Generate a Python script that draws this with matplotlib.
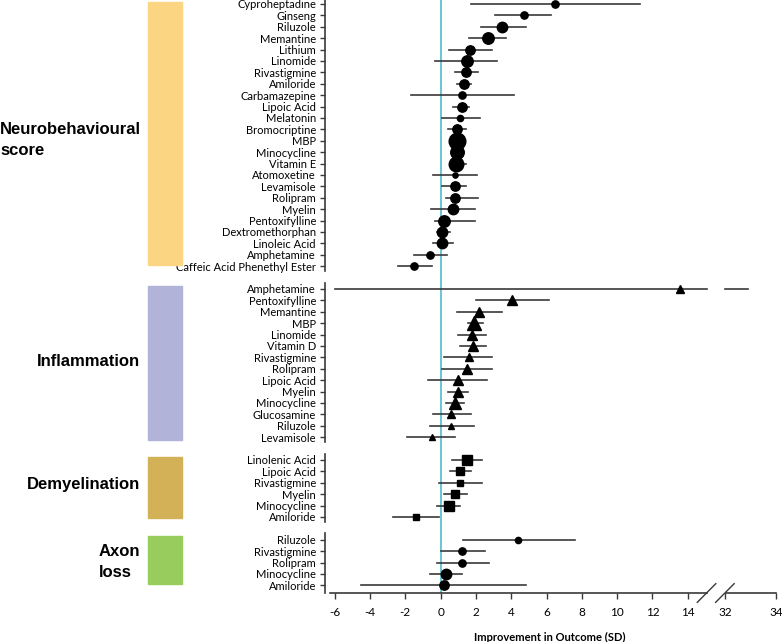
import numpy as np
import matplotlib.pyplot as plt
from matplotlib.patches import Rectangle

# Neurobehavioural score (circles)
neuro_drugs = ["Cyproheptadine", "Ginseng", "Riluzole", "Memantine", "Lithium", "Linomide",
               "Rivastigmine", "Amiloride", "Carbamazepine", "Lipoic Acid", "Melatonin",
               "Bromocriptine", "MBP", "Minocycline", "Vitamin E", "Atomoxetine", "Levamisole",
               "Rolipram", "Myelin", "Pentoxifylline", "Dextromethorphan", "Linoleic Acid",
               "Amphetamine", "Caffeic Acid Phenethyl Ester"]
neuro_est = [6.5, 4.7, 3.5, 2.7, 1.68, 1.5, 1.41, 1.3, 1.2, 1.19, 1.11, 0.9, 0.9, 0.9, 0.87,
             0.81, 0.81, 0.81, 0.68, 0.2, 0.07, 0.09, -0.62, -1.51]
neuro_lo = [1.7, 3.1, 2.28, 1.6, 0.49, -0.32, 0.81, 0.94, -1.7, 0.71, 0.09, 0.4, 0.6, 0.65,
            0.6, -0.42, 0.09, 0.3, -0.53, -0.3, -0.23, -0.42, -1.51, -2.4]
neuro_hi = [11.3, 6.24, 4.83, 3.73, 2.92, 3.22, 2.13, 1.7, 4.15, 1.62, 2.22, 1.41, 1.25, 1.24,
            1.43, 2.04, 1.41, 2.13, 1.94, 1.94, 0.53, 0.71, 0.34, -0.51]
neuro_wt = [7, 7, 10, 11, 9, 11, 9, 9, 7, 9, 6, 9, 16, 13, 14, 5, 9, 9, 10, 11, 10, 10, 7, 7]

# Inflammation (triangles)
inflam_drugs = ["Amphetamine", "Pentoxifylline", "Memantine", "MBP", "Linomide", "Vitamin D",
                "Rivastigmine", "Rolipram", "Lipoic Acid", "Myelin", "Minocycline",
                "Glucosamine", "Riluzole", "Levamisole"]
inflam_est = [13.54, 4.02, 2.19, 1.9, 1.79, 1.81, 1.6, 1.5, 1.0, 1.0, 0.81, 0.58, 0.58, -0.51]
inflam_lo = [-6.0, 2.0, 0.9, 1.53, 1.0, 1.09, 0.19, 0.09, -0.7, 0.4, 0.3, -0.42, -0.6, -1.92]
inflam_hi = [32.9, 6.15, 3.5, 2.41, 2.55, 2.55, 2.92, 2.92, 2.64, 1.53, 1.32, 1.7, 1.9, 0.81]
inflam_wt = [8, 10, 10, 14, 10, 10, 7, 10, 9, 10, 11, 7, 6, 5]

# Demyelination (squares)
demyel_drugs = ["Linolenic Acid", "Lipoic Acid", "Rivastigmine", "Myelin", "Minocycline",
                "Amiloride"]
demyel_est = [1.51, 1.09, 1.09, 0.81, 0.49, -1.4]
demyel_lo = [0.62, 0.53, -0.08, 0.2, -0.19, -2.72]
demyel_hi = [2.32, 1.7, 2.32, 1.51, 1.09, -0.1]
demyel_wt = [10, 9, 6, 9, 10, 6]

# Axon loss (circles)
axon_drugs = ["Riluzole", "Rivastigmine", "Rolipram", "Minocycline", "Amiloride"]
axon_est = [4.41, 1.2, 1.2, 0.3, 0.19]
axon_lo = [1.28, 0.0, -0.23, -0.6, -4.51]
axon_hi = [7.64, 2.5, 2.72, 1.22, 4.83]
axon_wt = [6, 7, 7, 10, 9]

x_ticks = [-6, -4, -2, 0, 2, 4, 6, 8, 10, 12, 14, 32, 34]


def fx(v):
    # broken axis: values above the gap are squeezed in after 15
    v = np.asarray(v, dtype=float)
    return np.where(v <= 15.5, v, 16.1 + (v - 32) * 1.45)


W, H = 782, 642
fig = plt.figure(figsize=(W / 100, H / 100), dpi=100)
ax = fig.add_axes([325 / W, 1 - 593 / H, (776 - 325) / W, 593 / H])
ax.set_xlim(-6.55, 18.98)
ax.set_ylim(51.67, -0.35)
for s in ax.spines.values():
    s.set_visible(False)

groups = [
    (neuro_drugs, neuro_est, neuro_lo, neuro_hi, neuro_wt, "o", 0, 0.75),
    (inflam_drugs, inflam_est, inflam_lo, inflam_hi, inflam_wt, "^", 25, 0.75),
    (demyel_drugs, demyel_est, demyel_lo, demyel_hi, demyel_wt, "s", 40, 0.68),
    (axon_drugs, axon_est, axon_lo, axon_hi, axon_wt, "o", 47, 0.75),
]

line_col = "#3a3a3a"
yt, yl = [], []
for drugs, est, lo, hi, wt, mk, start, k in groups:
    ys = start + np.arange(len(drugs))
    for y, e, l, h, w in zip(ys, est, lo, hi, wt):
        if h > 20:
            ax.plot([fx(l), 15.07], [y, y], color=line_col, lw=1.2, zorder=2)
            ax.plot([fx(32), fx(h)], [y, y], color=line_col, lw=1.2, zorder=2)
        else:
            ax.plot([fx(l), fx(h)], [y, y], color=line_col, lw=1.2, zorder=2)
        ax.plot(fx(e), y, marker=mk, ms=w * k, color="black", mec="black", zorder=3)
    yt += list(ys)
    yl += drugs
    top = start - 0.55
    bot = 51.67 if start == 47 else ys[-1] + 0.4
    ax.plot([-6.55, -6.55], [top, bot], color=line_col, lw=1.2, clip_on=False)

ax.set_yticks(yt)
ax.set_yticklabels(yl, fontsize=8, family="Lato")
ax.tick_params(axis="y", length=3.5, width=1, color=line_col, pad=3)

ax.set_xticks(fx(x_ticks))
ax.set_xticklabels([str(t) for t in x_ticks], fontsize=8.5, family="Lato")
ax.tick_params(axis="x", length=4, width=1, color=line_col, pad=6)

# zero line
ax.plot([0, 0], [-0.35, 51.67], color="#3fb6c6", lw=1.1, zorder=1)

# bottom axis with break
ax.plot([-6.27, 15.07], [51.67, 51.67], color=line_col, lw=1.2, clip_on=False)
ax.plot([16.15, 18.98], [51.67, 51.67], color=line_col, lw=1.2, clip_on=False)
for x0 in (14.54, 15.58):
    ax.plot([x0, x0 + 1.05], [51.67 + 0.82, 51.67 - 0.82], color=line_col, lw=1,
            clip_on=False)

fig.text(550 / W, 1 - 637 / H, "Improvement in Outcome (SD)", ha="center", va="center",
         fontsize=8, fontweight="bold", family="Lato")

# group colour bars and labels
bars = [(2, 265, "#fbd581"), (286, 440, "#b1b3d9"), (457, 518, "#d3b257"), (536, 584, "#98cc5c")]
for y0, y1, c in bars:
    fig.patches.append(Rectangle((148 / W, 1 - y1 / H), 34 / W, (y1 - y0) / H,
                                 transform=fig.transFigure, color=c, zorder=0))

lab = dict(fontsize=12, fontweight="bold", family="Liberation Sans", va="center")
fig.text(0 / W, 1 - 140 / H, "Neurobehavioural\nscore", ha="left", linespacing=1.45, **lab)
fig.text(140 / W, 1 - 361 / H, "Inflammation", ha="right", **lab)
fig.text(140 / W, 1 - 562 / H, "Axon\nloss", ha="right", multialignment="left",
         linespacing=1.45, **lab)
fig.text(140 / W, 1 - 484 / H, "Demyelination", ha="right", **lab)

fig.savefig("out.png", dpi=100)
